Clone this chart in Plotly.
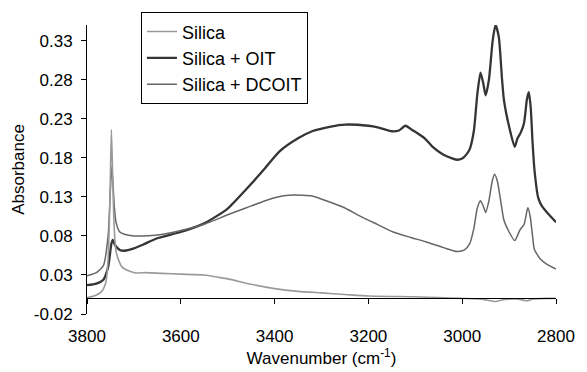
import plotly.graph_objects as go

# ---- data ----
silica_w = [3800, 3785, 3770, 3760, 3755, 3751, 3748, 3745, 3742, 3738, 3732, 3725, 3710, 3696, 3675,
            3640, 3600, 3550, 3520, 3500, 3450, 3400, 3350, 3300, 3250, 3200, 3100, 3050, 3000, 2960,
            2940, 2928, 2915, 2900, 2880, 2862, 2850, 2820, 2800]
silica_a = [0.001, 0.003, 0.008, 0.020, 0.050, 0.130, 0.216, 0.150, 0.090, 0.060, 0.048, 0.040, 0.035, 0.0325, 0.033,
            0.032, 0.031, 0.030, 0.027, 0.025, 0.018, 0.0125, 0.009, 0.007, 0.005, 0.003, 0.002, 0.001, 0.000, -0.001,
            -0.003, -0.004, -0.002, -0.001, -0.001, -0.003, -0.001, 0.000, 0.000]

oit_w = [3800, 3780, 3765, 3755, 3748, 3745, 3740, 3730, 3720, 3700, 3680, 3650, 3600, 3550, 3500, 3460,
         3420, 3390, 3350, 3320, 3280, 3250, 3200, 3180, 3150, 3135, 3121, 3110, 3098, 3080, 3063, 3040,
         3020, 3011, 3000, 2990, 2984, 2975, 2968, 2961, 2955, 2950, 2943, 2935, 2929, 2922, 2915, 2911,
         2900, 2888, 2882, 2875, 2868, 2862, 2858, 2854, 2850, 2846, 2838, 2830, 2819, 2800]
oit_a = [0.017, 0.019, 0.024, 0.040, 0.070, 0.075, 0.068, 0.062, 0.061, 0.064, 0.069, 0.077, 0.085, 0.096, 0.115, 0.140,
         0.167, 0.188, 0.205, 0.214, 0.220, 0.2225, 0.221, 0.219, 0.214, 0.215, 0.221, 0.217, 0.2125, 0.205, 0.194, 0.184,
         0.179, 0.1775, 0.179, 0.185, 0.191, 0.215, 0.260, 0.289, 0.275, 0.260, 0.280, 0.330, 0.350, 0.335, 0.280, 0.254,
         0.220, 0.194, 0.205, 0.2125, 0.225, 0.255, 0.264, 0.245, 0.200, 0.165, 0.129, 0.118, 0.110, 0.0975]

dcoit_w = [3800, 3780, 3765, 3755, 3750, 3747, 3742, 3738, 3730, 3720, 3700, 3680, 3650, 3600, 3550, 3500,
           3460, 3420, 3391, 3370, 3340, 3320, 3290, 3251, 3220, 3182, 3147, 3110, 3078, 3040, 3011, 2995,
           2984, 2975, 2968, 2961, 2955, 2950, 2943, 2936, 2931, 2925, 2918, 2911, 2900, 2888, 2877, 2868,
           2862, 2860, 2855, 2850, 2846, 2833, 2820, 2800]
dcoit_a = [0.029, 0.033, 0.042, 0.080, 0.140, 0.169, 0.120, 0.097, 0.085, 0.082, 0.080, 0.080, 0.081, 0.087, 0.095, 0.107,
           0.116, 0.125, 0.130, 0.132, 0.132, 0.131, 0.125, 0.116, 0.106, 0.095, 0.085, 0.078, 0.0725, 0.065, 0.060, 0.062,
           0.070, 0.090, 0.115, 0.125, 0.118, 0.110, 0.125, 0.150, 0.159, 0.150, 0.125, 0.100, 0.085, 0.074, 0.0875, 0.095,
           0.112, 0.116, 0.105, 0.080, 0.0625, 0.050, 0.044, 0.0375]

y_ticks = [-0.02, 0.03, 0.08, 0.13, 0.18, 0.23, 0.28, 0.33]
y_ticktext = ["-0.02", "0.03", "0.08", "0.13", "0.18", "0.23", "0.28", "0.33"]
x_ticks = [3800, 3600, 3400, 3200, 3000, 2800]
x_range = [3800, 2800]
y_range = [-0.02, 0.35]

FONT = "Liberation Sans, Arial, sans-serif"

fig = go.Figure()
fig.add_trace(go.Scatter(x=silica_w, y=silica_a, mode="lines", name="Silica",
                         line=dict(color="#9a9a9a", width=1.6, shape="spline", smoothing=0.6), xaxis="x2"))
fig.add_trace(go.Scatter(x=oit_w, y=oit_a, mode="lines", name="Silica + OIT",
                         line=dict(color="#353535", width=2.3, shape="spline", smoothing=0.6)))
fig.add_trace(go.Scatter(x=dcoit_w, y=dcoit_a, mode="lines", name="Silica + DCOIT",
                         line=dict(color="#666666", width=1.5, shape="spline", smoothing=0.6)))

zero_pos = (0 - y_range[0]) / (y_range[1] - y_range[0])

fig.update_layout(
    width=587, height=372,
    margin=dict(l=87, r=21, t=23, b=53),
    paper_bgcolor="white", plot_bgcolor="white",
    font=dict(family=FONT, size=17, color="black"),
    showlegend=True,
    legend=dict(x=0.115, y=1.044, xanchor="left", yanchor="top",
                bordercolor="black", borderwidth=1, bgcolor="white",
                font=dict(size=18), itemwidth=30, tracegroupgap=0),
    xaxis=dict(range=x_range, tickvals=x_ticks, showline=False, showgrid=False, zeroline=False,
               ticks="", ticklabelstandoff=10,
               title=dict(text="Wavenumber (cm<sup>-1</sup>)", font=dict(size=17), standoff=2)),
    xaxis2=dict(range=x_range, overlaying="x", anchor="free", position=zero_pos,
                tickvals=x_ticks, showticklabels=False, showline=True, linecolor="black", linewidth=1,
                ticks="outside", ticklen=5, tickcolor="black", showgrid=False, zeroline=False),
    yaxis=dict(range=y_range, tickvals=y_ticks, ticktext=y_ticktext, showline=True, linecolor="black",
               linewidth=1, ticks="outside", ticklen=5, tickcolor="black", showgrid=False, zeroline=False,
               ticklabelstandoff=5,
               title=dict(text="Absorbance", font=dict(size=17), standoff=4)),
)

fig.write_html("out.html")
